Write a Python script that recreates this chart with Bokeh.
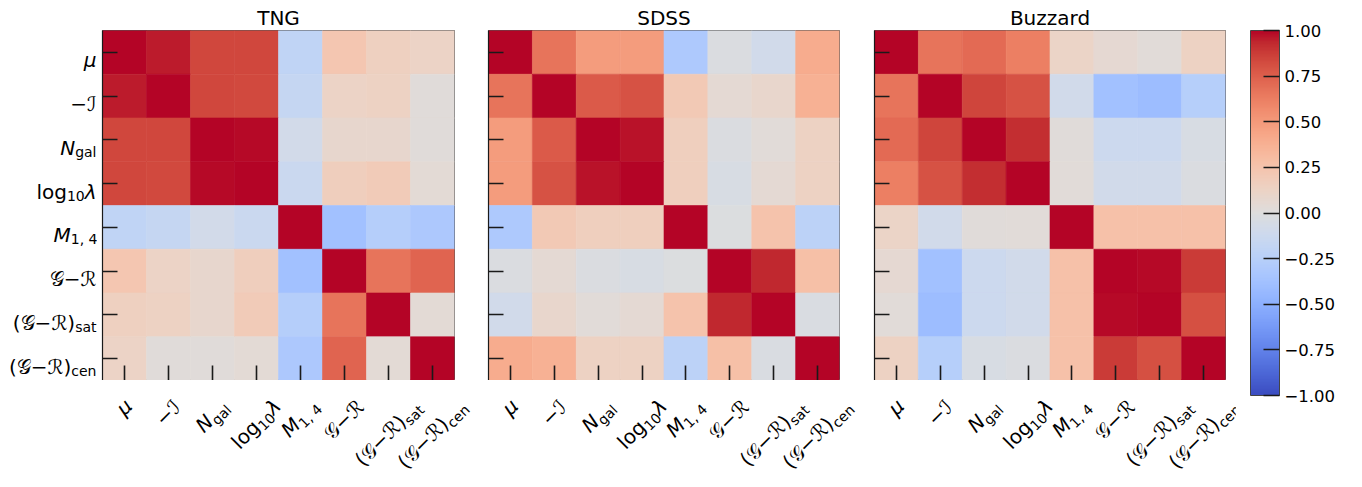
import numpy as np
from bokeh.plotting import figure
from bokeh.models import (Range1d, FixedTicker, ColumnDataSource, Div,
                          LinearColorMapper, ColorBar)
from bokeh.core.properties import value
from bokeh.layouts import row, column
from bokeh.embed import file_html
from bokeh.resources import INLINE

# ---------------------------------------------------------------- data
titles = ["TNG", "SDSS", "Buzzard"]

# tick labels: main part, subscript, trailing part
label_main = ["μ", "−ℐ", "N", "log", "M", "𝒢−ℛ", "(𝒢−ℛ)", "(𝒢−ℛ)"]
label_sub = ["", "", "gal", "10", "1, 4", "", "sat", "cen"]
label_tail = ["", "", "", "λ", "", "", "", ""]
label_italic = [True, False, True, False, True, False, False, False]

tng_corr = [
    [1.00, 0.96, 0.84, 0.84, -0.20, 0.23, 0.15, 0.12],
    [0.96, 1.00, 0.84, 0.83, -0.17, 0.12, 0.14, 0.02],
    [0.84, 0.84, 1.00, 0.99, -0.08, 0.08, 0.08, 0.02],
    [0.84, 0.83, 0.99, 1.00, -0.14, 0.17, 0.19, 0.04],
    [-0.20, -0.17, -0.08, -0.14, 1.00, -0.38, -0.27, -0.32],
    [0.23, 0.12, 0.08, 0.17, -0.38, 1.00, 0.67, 0.73],
    [0.15, 0.14, 0.08, 0.19, -0.27, 0.67, 1.00, 0.04],
    [0.12, 0.02, 0.02, 0.04, -0.32, 0.73, 0.04, 1.00],
]

sdss_corr = [
    [1.00, 0.67, 0.49, 0.49, -0.31, -0.02, -0.09, 0.40],
    [0.67, 1.00, 0.77, 0.80, 0.21, 0.05, 0.09, 0.37],
    [0.49, 0.77, 1.00, 0.97, 0.16, -0.02, 0.03, 0.14],
    [0.49, 0.80, 0.97, 1.00, 0.16, -0.04, 0.05, 0.14],
    [-0.31, 0.21, 0.16, 0.16, 1.00, -0.01, 0.25, -0.22],
    [-0.02, 0.05, -0.02, -0.04, -0.01, 1.00, 0.93, 0.28],
    [-0.09, 0.09, 0.03, 0.05, 0.25, 0.93, 1.00, -0.03],
    [0.40, 0.37, 0.14, 0.14, -0.22, 0.28, -0.03, 1.00],
]

buzzard_corr = [
    [1.00, 0.67, 0.71, 0.62, 0.11, 0.06, 0.03, 0.14],
    [0.67, 1.00, 0.85, 0.80, -0.09, -0.38, -0.41, -0.26],
    [0.71, 0.85, 1.00, 0.92, 0.02, -0.12, -0.12, -0.04],
    [0.62, 0.80, 0.92, 1.00, 0.03, -0.09, -0.09, -0.02],
    [0.11, -0.09, 0.02, 0.03, 1.00, 0.27, 0.27, 0.27],
    [0.06, -0.38, -0.12, -0.09, 0.27, 1.00, 0.99, 0.88],
    [0.03, -0.41, -0.12, -0.09, 0.27, 0.99, 1.00, 0.81],
    [0.14, -0.26, -0.04, -0.02, 0.27, 0.88, 0.81, 1.00],
]

cbar_ticks = [-1.0, -0.75, -0.5, -0.25, 0.0, 0.25, 0.5, 0.75, 1.0]

# ---------------------------------------------------------------- colormap
# diverging cool-to-warm table (Moreland), interpolated to 256 steps
_cw_table = [
    (59, 76, 192), (68, 90, 204), (77, 104, 215), (87, 117, 225),
    (98, 130, 234), (108, 142, 241), (119, 154, 247), (130, 165, 251),
    (141, 176, 254), (152, 185, 255), (163, 194, 255), (174, 201, 253),
    (184, 208, 249), (194, 213, 244), (204, 217, 238), (213, 219, 230),
    (221, 221, 221), (229, 216, 209), (236, 211, 197), (241, 204, 185),
    (245, 196, 173), (247, 187, 160), (247, 177, 148), (247, 166, 135),
    (244, 154, 123), (241, 141, 111), (236, 127, 99), (229, 112, 88),
    (222, 96, 77), (213, 80, 66), (203, 62, 56), (192, 40, 47),
    (180, 4, 38),
]


def coolwarm(n=256):
    tab = np.array(_cw_table, dtype=float)
    src = np.linspace(0, 1, len(tab))
    dst = np.linspace(0, 1, n)
    chans = [np.interp(dst, src, tab[:, c]) for c in range(3)]
    return ["#%02x%02x%02x" % tuple(int(round(ch[i])) for ch in chans)
            for i in range(n)]


mapper = LinearColorMapper(palette=coolwarm(), low=-1, high=1)

# ---------------------------------------------------------------- geometry
FONT = "DejaVu Sans"
F_MAIN = 20
F_SUB = 14
SUB_DROP = 4.0
TOP = 30          # space above the matrices (titles)
FRAME_H = 350     # matrix height
BOTTOM = 107      # strip for the rotated column labels
YLAB_W = 97       # strip for the row labels
N = len(label_main)

# approximate advance widths (em) for the glyphs used in the labels
_em = {"μ": 0.64, "−": 0.84, "ℐ": 0.62, "N": 0.75, "M": 0.86, "g": 0.635,
       "a": 0.613, "l": 0.278, "o": 0.612, "1": 0.636, "0": 0.636,
       ",": 0.318, " ": 0.25, "4": 0.636, "λ": 0.59, "𝒢": 0.72, "ℛ": 0.82,
       "(": 0.39, ")": 0.39, "s": 0.521, "t": 0.392, "c": 0.55, "e": 0.615,
       "n": 0.634}


def text_w(s, size):
    return size * sum(_em.get(ch, 0.62) for ch in s)


def label_width(k):
    return (text_w(label_main[k], F_MAIN) + text_w(label_sub[k], F_SUB)
            + text_w(label_tail[k], F_MAIN))


def draw_text(p, x, y, text, size, italic, align):
    p.text(x=[x], y=[y], text=[text], text_align=align,
           text_baseline="alphabetic", text_font=value(FONT),
           text_font_size=value("%gpx" % size),
           text_font_style="italic" if italic else "normal",
           text_color="black")


def label_html(k):
    main = label_main[k]
    html = "<i>%s</i>" % main if label_italic[k] else main
    if label_sub[k]:
        html += ('<span style="font-size:%dpx;position:relative;top:%gpx">'
                 '%s</span>' % (F_SUB, SUB_DROP, label_sub[k]))
    if label_tail[k]:
        html += "<i>%s</i>" % label_tail[k]
    return html


# ---------------------------------------------------------------- panels
def heatmap(title, mat, bl, br, fw):
    p = figure(frame_width=fw, frame_height=FRAME_H,
               min_border_left=bl, min_border_right=br,
               min_border_top=TOP, min_border_bottom=0,
               x_range=Range1d(0, N), y_range=Range1d(0, N),
               toolbar_location=None, tools="", output_backend="svg",
               title=title)
    xs, ys, vs = [], [], []
    for i in range(N):
        for j in range(N):
            xs.append(j + 0.5)
            ys.append(N - 0.5 - i)
            vs.append(mat[i][j])
    src = ColumnDataSource(dict(x=xs, y=ys, v=vs))
    p.rect(x="x", y="y", width=1, height=1, source=src,
           fill_color={"field": "v", "transform": mapper},
           line_color={"field": "v", "transform": mapper}, line_width=0.6)

    for ax in (p.xaxis[0], p.yaxis[0]):
        ax.ticker = FixedTicker(ticks=[k + 0.5 for k in range(N)])
        ax.major_tick_in = 15
        ax.major_tick_out = 0
        ax.minor_tick_in = 0
        ax.minor_tick_out = 0
        ax.major_tick_line_color = "#1a1a1a"
        ax.major_tick_line_width = 1.6
        ax.axis_line_color = "#1a1a1a"
        ax.axis_line_width = 1.2
        # tick labels are typeset separately (subscripts, rotation)
        ax.major_label_text_color = None
        ax.major_label_text_font_size = "1px"
        ax.major_label_standoff = 0
    p.grid.visible = False
    p.outline_line_color = "#555555"
    p.outline_line_width = 1

    p.title.align = "center"
    p.title.text_font = FONT
    p.title.text_font_size = "20px"
    p.title.text_font_style = "normal"
    p.title.text_color = "black"
    p.title.standoff = 2
    return p


def column_labels(bl, br, fw):
    """Column labels rotated by 45 degrees, each centred on its tick."""
    wfig = bl + fw + br
    cw = fw / N
    parts = []
    for k in range(N):
        W = label_width(k)
        cx = bl + (k + 0.5) * cw
        cy = 17 + 0.3535 * (W + 16)
        parts.append(
            '<div style="position:absolute;left:%.1fpx;top:%.1fpx;'
            'transform:translate(-50%%,-50%%) rotate(-45deg);'
            'white-space:nowrap;font-family:\'%s\';font-size:%dpx;'
            'line-height:1;color:black">%s</div>'
            % (cx, cy, FONT, F_MAIN, label_html(k)))
    html = ('<div style="position:relative;width:%dpx;height:%dpx">%s</div>'
            % (wfig, BOTTOM, "".join(parts)))
    return Div(text=html, width=wfig, height=BOTTOM, margin=0)


def row_labels(y_range):
    """Right-aligned row labels left of the first matrix."""
    p = figure(frame_width=YLAB_W, frame_height=FRAME_H, min_border_left=0,
               min_border_right=0, min_border_top=TOP,
               min_border_bottom=BOTTOM, x_range=Range1d(-YLAB_W, 0),
               y_range=y_range, x_axis_location=None, y_axis_location=None,
               toolbar_location=None, tools="", output_backend="svg")
    p.grid.visible = False
    p.outline_line_color = None
    ch = FRAME_H / N
    for k in range(N):
        wm = text_w(label_main[k], F_MAIN)
        ws = text_w(label_sub[k], F_SUB)
        W = label_width(k)
        y = N - 0.5 - k - 8.0 / ch
        draw_text(p, -1 - W + wm, y, label_main[k], F_MAIN,
                  label_italic[k], "right")
        if label_sub[k]:
            draw_text(p, -1 - W + wm, y - SUB_DROP / ch, label_sub[k],
                      F_SUB, False, "left")
        if label_tail[k]:
            draw_text(p, -1 - W + wm + ws, y, label_tail[k], F_MAIN,
                      True, "left")
    return p


geom = [(5, 17, 352), (17, 17, 351), (18, 10, 351)]
mats = [tng_corr, sdss_corr, buzzard_corr]

cols = []
heats = []
for t, m, (bl, br, fw) in zip(titles, mats, geom):
    h = heatmap(t, m, bl, br, fw)
    heats.append(h)
    cols.append(column(h, column_labels(bl, br, fw)))

ylab = row_labels(heats[0].y_range)

# ---------------------------------------------------------------- colour bar
pc = figure(frame_width=29, frame_height=365, min_border_left=15,
            min_border_right=83, min_border_top=26, min_border_bottom=96,
            x_range=Range1d(0, 1), y_range=Range1d(-1, 1),
            x_axis_location=None, y_axis_location=None,
            toolbar_location=None, tools="", output_backend="svg")
pc.grid.visible = False
pc.outline_line_color = None

cb_labels = {t: ("%.2f" % t).replace("-", "−") for t in cbar_ticks}
cbar = ColorBar(color_mapper=mapper, ticker=FixedTicker(ticks=cbar_ticks),
                major_label_overrides=cb_labels,
                location=(0, 0), padding=0, width=29, height=365,
                major_tick_in=16, major_tick_out=0,
                major_tick_line_color="#1a1a1a", major_tick_line_width=1.6,
                bar_line_color="#444444", bar_line_width=1,
                label_standoff=5, major_label_text_font=FONT,
                major_label_text_font_size="16.5px",
                major_label_text_color="black",
                background_fill_alpha=0, border_line_color=None)
pc.add_layout(cbar, "center")

layout = row(ylab, *cols, pc)
open("out.html", "w").write(file_html(layout, INLINE))
